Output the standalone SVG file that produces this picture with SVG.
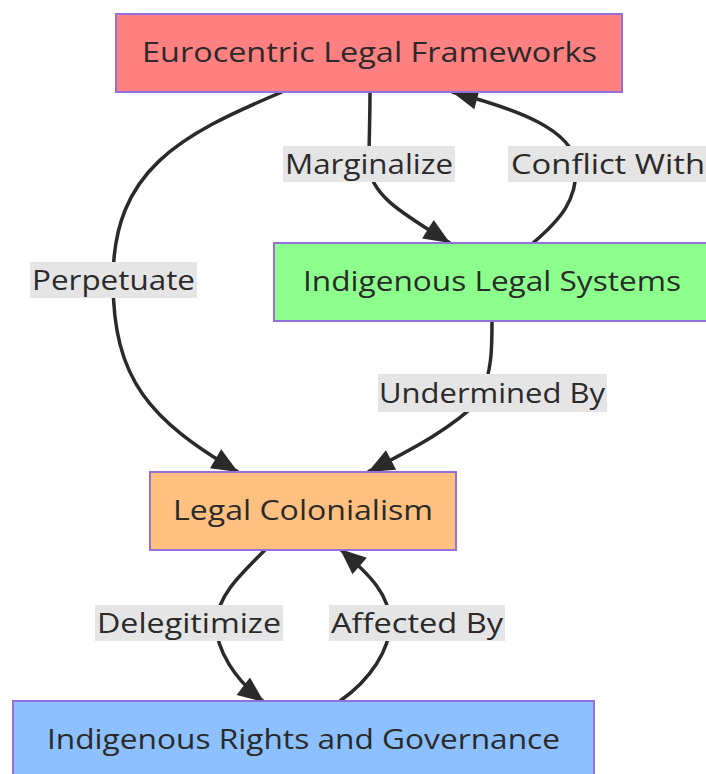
<svg xmlns="http://www.w3.org/2000/svg" width="706" height="774" viewBox="0 0 706 774">
<style>
.node rect{stroke:#9370DB;stroke-width:2}
.nt{font-family:"Open Sans","Liberation Sans",sans-serif;font-size:27px;fill:#2a2a2a;text-anchor:middle;dominant-baseline:central}
.lb rect{fill:#e5e5e5;stroke:none}
.lb text{font-family:"Open Sans","Liberation Sans",sans-serif;font-size:27px;fill:#2a2a2a;text-anchor:middle;dominant-baseline:central}
.edge{fill:none;stroke:#2a2a2a;stroke-width:3.5}
</style>
<defs>
<marker id="arr" markerUnits="userSpaceOnUse" markerWidth="28" markerHeight="24" viewBox="0 0 28 24" refX="27" refY="12" orient="auto">
<path d="M1,1 L27,12 L1,23 Z" fill="#2a2a2a"/>
</marker>
</defs>
<g id="connectors">
<path class="edge" marker-end="url(#arr)" d="M282,92 C180,135 113,170 113,280 C113,380 150,420 238,472"/>
<path class="edge" marker-end="url(#arr)" d="M370,92 C370,120 369,140 369,164 C369,195 405,215 450,243"/>
<path class="edge" marker-end="url(#arr)" d="M533,243 C560,220 578,200 576,164 C572,130 520,110 452,92"/>
<path class="edge" marker-end="url(#arr)" d="M492,321 C492,350 492,370 480,400 C450,430 410,450 368,472"/>
<path class="edge" marker-end="url(#arr)" d="M265,550 C240,575 218,595 216,623 C216,650 235,680 264,702"/>
<path class="edge" marker-end="url(#arr)" d="M340,701 C370,680 390,650 390,623 C390,595 370,575 340,549"/>
</g>
<g id="eurocentric" class="node">
<rect x="116" y="14" width="506" height="78" fill="#ff8080"/>
<text class="nt" x="369.5" y="51" textLength="455" lengthAdjust="spacingAndGlyphs">Eurocentric Legal Frameworks</text>
</g>
<g id="indigenous-legal" class="node">
<rect x="274" y="243" width="436" height="78" fill="#8cff8c"/>
<text class="nt" x="492" y="280" textLength="378" lengthAdjust="spacingAndGlyphs">Indigenous Legal Systems</text>
</g>
<g id="legal-colonialism" class="node">
<rect x="150" y="472" width="306" height="78" fill="#ffc080"/>
<text class="nt" x="303" y="509" textLength="260" lengthAdjust="spacingAndGlyphs">Legal Colonialism</text>
</g>
<g id="rights-governance" class="node">
<rect x="13" y="701" width="581" height="78" fill="#8cc0ff"/>
<text class="nt" x="303.5" y="738" textLength="513" lengthAdjust="spacingAndGlyphs">Indigenous Rights and Governance</text>
</g>
<g id="edge-labels">
<g class="lb"><rect x="283" y="146" width="172" height="36"/><text x="369" y="163" textLength="168" lengthAdjust="spacingAndGlyphs">Marginalize</text></g>
<g class="lb"><rect x="508" y="146" width="200" height="36"/><text x="608" y="163" textLength="194" lengthAdjust="spacingAndGlyphs">Conflict With</text></g>
<g class="lb"><rect x="30" y="262" width="167" height="36"/><text x="113.5" y="279" textLength="163" lengthAdjust="spacingAndGlyphs">Perpetuate</text></g>
<g class="lb"><rect x="378" y="374" width="229" height="38"/><text x="492" y="392" textLength="226" lengthAdjust="spacingAndGlyphs">Undermined By</text></g>
<g class="lb"><rect x="95" y="605" width="188" height="36"/><text x="189" y="622" textLength="184" lengthAdjust="spacingAndGlyphs">Delegitimize</text></g>
<g class="lb"><rect x="329" y="605" width="176" height="36"/><text x="417" y="622" textLength="172" lengthAdjust="spacingAndGlyphs">Affected By</text></g>
</g>
</svg>
